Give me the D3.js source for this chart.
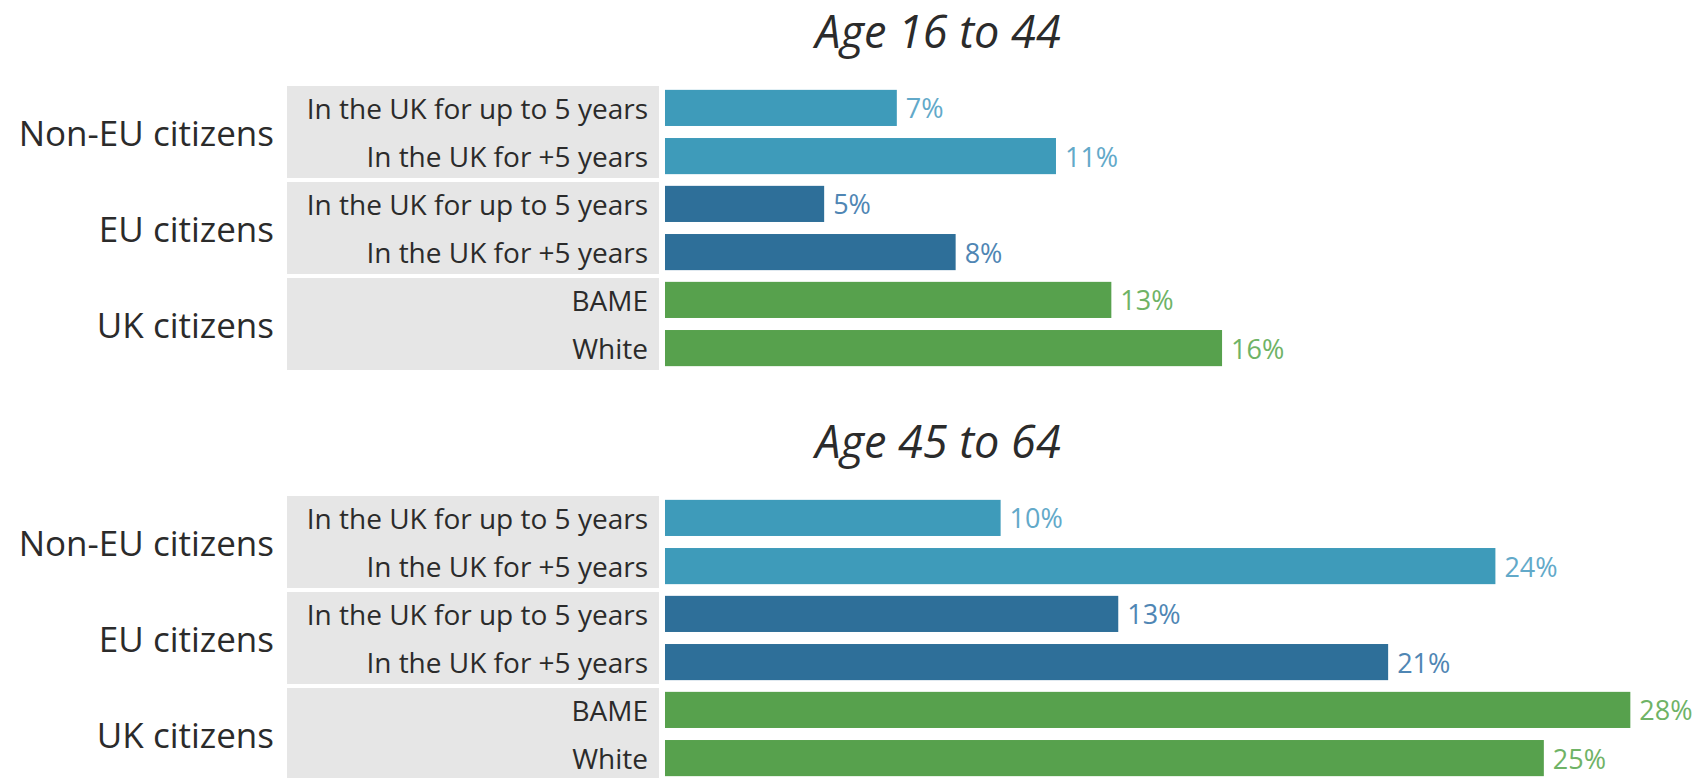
<!DOCTYPE html>
<html>
<head>
<meta charset="utf-8">
<script src="https://cdn.jsdelivr.net/npm/d3@7"></script>
<style>
  body { margin: 0; background: #fff; }
</style>
</head>
<body>
<div id="canvas"></div>
<script>
// Panel titles (one small chart per age band).
const panels = ["Age 16 to 44", "Age 45 to 64"];
// Citizenship groups, top to bottom.
const groups = ["Non-EU citizens", "EU citizens", "UK citizens"];
// Row labels inside each group.
const rowLabels = [
    ["In the UK for up to 5 years", "In the UK for +5 years"],
    ["In the UK for up to 5 years", "In the UK for +5 years"],
    ["BAME", "White"]
];
// Percent values, in row order.
const values16to44 = [6.7, 11.3, 4.6, 8.4, 12.9, 16.1];
const values45to64 = [9.7, 24.0, 13.1, 20.9, 27.9, 25.4];
const panelValues = [values16to44, values45to64];

// Chart size.
const w = 1698, h = 778;
const FONT = "'Open Sans', 'Noto Sans', sans-serif";

// Colours per group: bars and value labels.
const barColors = ["#3e9bba", "#2e6f99", "#57a14d"];
const labelColors = ["#62a9c9", "#4f86b4", "#6fb366"];

const svg = d3.select("#canvas")
    .append("svg")
    .attr("width", w)
    .attr("height", h);

// Shared horizontal scale for the bars.
const x = d3.scaleLinear()
    .domain([0, 30])
    .range([665, 665 + 1038]);

// Vertical position of each panel's first group.
const panelY = d3.scaleOrdinal()
    .domain(panels)
    .range([86, 496]);

// Groups within a panel.
const yGroup = d3.scaleBand()
    .domain(groups)
    .range([0, 284])
    .paddingInner(4 / 96);

// Rows within a group.
const yRow = d3.scaleBand()
    .domain([0, 1])
    .range([0, yGroup.bandwidth()])
    .paddingInner(0.25)
    .paddingOuter(0.08);

const pct = v => Math.round(v) + "%";

panels.forEach((title, p) => {
    const g = svg.append("g")
        .attr("transform", `translate(0,${panelY(title)})`);

    // Panel title.
    g.append("text")
        .attr("x", 938)
        .attr("y", -56)
        .attr("text-anchor", "middle")
        .attr("dominant-baseline", "central")
        .attr("font-family", FONT)
        .attr("font-style", "italic")
        .attr("font-size", 45)
        .attr("fill", "#2b2b2b")
        .text(title);

    const rows = groups.map((grp, gi) => rowLabels[gi].map((label, ri) => ({
        grp, gi, ri, label, value: panelValues[p][gi * 2 + ri]
    })));

    const grpSel = g.selectAll(".group")
        .data(rows)
        .join("g")
        .attr("class", "group")
        .attr("transform", (d, i) => `translate(0,${yGroup(groups[i])})`);

    // Grey header band behind the row labels.
    grpSel.append("rect")
        .attr("x", 287)
        .attr("y", 0)
        .attr("width", 372)
        .attr("height", yGroup.bandwidth())
        .attr("fill", "#e6e6e6");

    // Group label.
    grpSel.append("text")
        .attr("x", 274)
        .attr("y", yGroup.bandwidth() / 2)
        .attr("text-anchor", "end")
        .attr("dominant-baseline", "central")
        .attr("font-family", FONT)
        .attr("font-size", 35)
        .attr("fill", "#2b2b2b")
        .text((d, i) => groups[i]);

    const rowSel = grpSel.selectAll(".row")
        .data(d => d)
        .join("g")
        .attr("class", "row")
        .attr("transform", d => `translate(0,${yRow(d.ri)})`);

    rowSel.append("text")
        .attr("x", 648)
        .attr("y", yRow.bandwidth() / 2)
        .attr("text-anchor", "end")
        .attr("dominant-baseline", "central")
        .attr("font-family", FONT)
        .attr("font-size", 28)
        .attr("fill", "#2b2b2b")
        .text(d => d.label);

    rowSel.append("rect")
        .attr("x", x(0))
        .attr("y", 0)
        .attr("width", d => x(d.value) - x(0))
        .attr("height", yRow.bandwidth())
        .attr("fill", d => barColors[d.gi]);

    rowSel.append("text")
        .attr("x", d => x(d.value) + 9)
        .attr("y", yRow.bandwidth() / 2)
        .attr("dominant-baseline", "central")
        .attr("font-family", FONT)
        .attr("font-size", 27)
        .attr("fill", d => labelColors[d.gi])
        .text(d => pct(d.value));
});
</script>
</body>
</html>
